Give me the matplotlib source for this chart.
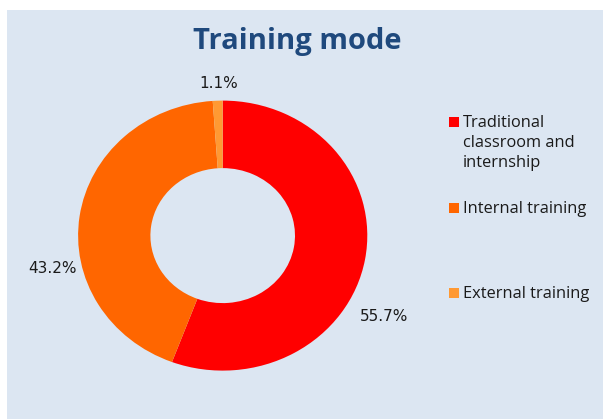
import matplotlib
matplotlib.use("Agg")
import matplotlib.pyplot as plt
from matplotlib.patches import Rectangle

categories = ["Traditional\nclassroom and\ninternship", "Internal training", "External training"]
values = [55.7, 43.2, 1.1]
pct_labels = ["55.7%", "43.2%", "1.1%"]
colors = ["#FF0000", "#FF6600", "#FF9933"]

label_pos = [(1.115, -0.596), (-1.18, -0.24), (-0.026, 1.123)]
legend_y = [122, 208, 293]  # pixel centers from top

W, H = 603, 419
fig = plt.figure(figsize=(W / 100, H / 100), dpi=100)
fig.patch.set_facecolor("white")
bg = "#DCE6F2"
bgrect = Rectangle((7 / W, 0), 1 - 7 / W, (H - 10) / H, transform=fig.transFigure,
                   facecolor=bg, edgecolor="none", zorder=-10)
fig.add_artist(bgrect)

cx, cy, rx, ry = 222.7, 235.6, 144.6, 135.0
ax = fig.add_axes([(cx - rx) / W, (H - cy - ry) / H, 2 * rx / W, 2 * ry / H])
ax.set_zorder(5)
ax.set_facecolor("none")
ax.pie(values, colors=colors, startangle=90, counterclock=False,
       wedgeprops=dict(width=0.5, edgecolor="none"), radius=1.0)
ax.set_xlim(-1, 1)
ax.set_ylim(-1, 1)
ax.set_aspect("auto")
ax.axis("off")

for txt, (x, y) in zip(pct_labels, label_pos):
    ax.text(x, y, txt, ha="center", va="center", fontsize=11, color="#1a1a1a",
            family="DejaVu Sans", clip_on=False)

fig.text(297 / W, 1 - 49 / H, "Training mode", ha="center", va="baseline",
         fontsize=21, fontweight="bold", color="#1F497D", family="Open Sans")

for cat, col, yy in zip(categories, colors, legend_y):
    fig.add_artist(Rectangle((449 / W, 1 - (yy + 5) / H), 10 / W, 10 / H,
                             transform=fig.transFigure, facecolor=col,
                             edgecolor="none", zorder=2))
    fig.text(463 / W, 1 - (yy - 7) / H, cat, ha="left", va="top", fontsize=11.8,
             color="#1a1a1a", family="Open Sans", linespacing=1.33)

fig.savefig("out.png", dpi=100)
